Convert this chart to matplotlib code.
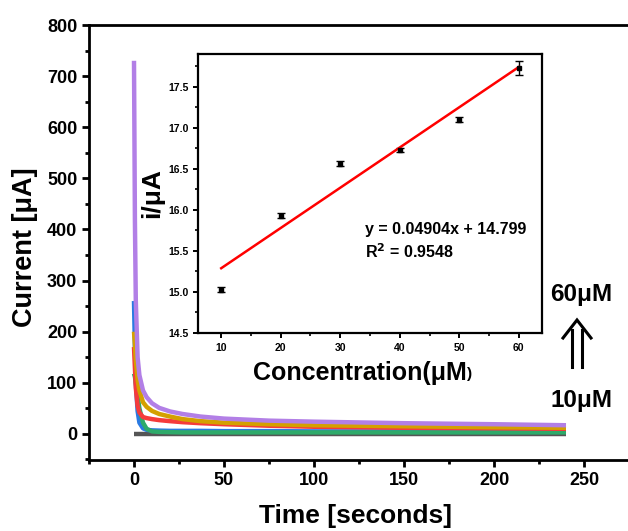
import matplotlib
matplotlib.use("Agg")
import matplotlib.pyplot as plt
from matplotlib.ticker import MultipleLocator
from matplotlib.lines import Line2D

plt.rcParams['font.family'] = ['Liberation Sans', 'DejaVu Sans']
plt.rcParams['font.weight'] = 'bold'

# Chronoamperometry traces (time in s, current in µA)
time_s = [0, 0.5, 1, 2, 3, 5, 7, 10, 14, 20, 27, 37, 50, 75, 100, 150, 200, 240]
i_blank = [0, 0, 0, 0, 0, 0, 0, 0, 0, 0, 0, 0, 0, 0, 0, 0, 0, 0]
i_10uM = [260, 170, 100, 45, 22, 11, 8, 7, 6.5, 6, 6, 6, 5.5, 5.5, 5, 5, 5, 5]
i_20uM = [118, 112, 100, 75, 50, 22, 10, 5, 4, 3.5, 3, 3, 3, 3, 3, 3, 3, 3]
i_30uM = [170, 130, 90, 55, 42, 33, 31, 29, 27, 25, 23, 21, 19, 16, 14, 12, 11, 10]
i_40uM = [200, 175, 145, 105, 85, 62, 53, 45, 39, 34, 29, 25, 22, 19, 17, 15, 13, 12]
i_60uM = [730, 420, 260, 150, 115, 85, 72, 60, 51, 44, 39, 34, 30, 26, 24, 21, 19, 17]

trace_series = [i_blank, i_10uM, i_20uM, i_30uM, i_40uM, i_60uM]
trace_colors = ['#555555', '#2a7ae2', '#2eaa6a', '#f53b3b', '#d4a000', '#b27fe6']

# Calibration data
conc = [10, 20, 30, 40, 50, 60]
peak_i = [15.03, 15.93, 16.56, 16.73, 17.10, 17.73]
peak_err = [0.03, 0.03, 0.03, 0.02, 0.03, 0.08]
slope, intercept = 0.04904, 14.799

fig = plt.figure(figsize=(6.28, 5.31), dpi=100)
ax = fig.add_axes([89/628, 1-460/531, 558/628, 435/531])

for y, c in zip(trace_series, trace_colors):
    ax.plot(time_s, y, color=c, lw=3.2, solid_capstyle='butt')

ax.set_xlim(-25, 285)
ax.set_ylim(-51, 800)
ax.xaxis.set_major_locator(MultipleLocator(50))
ax.xaxis.set_minor_locator(MultipleLocator(25))
ax.yaxis.set_major_locator(MultipleLocator(100))
ax.yaxis.set_minor_locator(MultipleLocator(50))
for s in ['left', 'top', 'bottom']:
    ax.spines[s].set_linewidth(2)
ax.spines['right'].set_visible(False)
ax.tick_params(which='major', direction='out', length=5, width=2, labelsize=13)
ax.tick_params(which='minor', direction='out', length=3, width=2)
for lab in ax.get_xticklabels() + ax.get_yticklabels():
    lab.set_fontweight('bold')
ax.set_xlabel('Time [seconds]', fontsize=19, fontweight='bold')
ax.xaxis.set_label_coords(0.478, -0.1)
ax.set_ylabel('Current [μA]', fontsize=19.5, fontweight='bold')
ax.yaxis.set_label_coords(-0.092, 0.49)

# Inset calibration plot
ins = fig.add_axes([198/628, 1-333/531, 344/628, 279/531])
ins.errorbar(conc, peak_i, yerr=peak_err, fmt='s', color='black', ms=3,
             capsize=3, elinewidth=1, capthick=1)
fit_x = [conc[0], conc[-1]]
fit_y = [slope * x + intercept for x in fit_x]
ins.plot(fit_x, fit_y, color='red', lw=1.8)
ins.set_xlim(6.1, 63.9)
ins.set_ylim(14.5, 17.9)
ins.xaxis.set_major_locator(MultipleLocator(10))
ins.xaxis.set_minor_locator(MultipleLocator(5))
ins.yaxis.set_major_locator(MultipleLocator(0.5))
ins.yaxis.set_minor_locator(MultipleLocator(0.25))
for s in ins.spines.values():
    s.set_linewidth(1.6)
ins.tick_params(which='major', direction='out', length=3.5, width=1.4, labelsize=7.5)
ins.tick_params(which='minor', direction='out', length=2, width=1.2)
ins.set_yticks([14.5, 15.0, 15.5, 16.0, 16.5, 17.0, 17.5])
ins.set_yticklabels(['14.5', '15.0', '15.5', '16.0', '16.5', '17.0', '17.5'])
for lab in ins.get_xticklabels() + ins.get_yticklabels():
    lab.set_fontweight('bold')
xl = ins.set_xlabel('Concentration(μM', fontsize=18, fontweight='bold')
ins.xaxis.set_label_coords(0.47, -0.1)
ins.annotate(')', xy=(1, 0.15), xycoords=xl, fontsize=11, fontweight='bold',
             ha='left', va='bottom')
ins.set_ylabel('i/μA', fontsize=19, fontweight='bold', labelpad=3)
ins.text(0.485, 0.37, 'y = 0.04904x + 14.799', transform=ins.transAxes,
         fontsize=11.5, fontweight='bold', ha='left', va='center')
ins.text(0.485, 0.29, 'R$^\\mathbf{2}$ = 0.9548', transform=ins.transAxes,
         fontsize=11.5, fontweight='bold', ha='left', va='center')

# Concentration direction marker
fig.text(581/628, 1-294/531, '60μM', fontsize=17.5, fontweight='bold',
         ha='center', va='center')
fig.text(581/628, 1-401/531, '10μM', fontsize=17.5, fontweight='bold',
         ha='center', va='center')
W, H = 628, 531
def fx(p):
    return p / W
def fy(p):
    return 1 - p / H
for xs in (572, 582):
    fig.add_artist(Line2D([fx(xs), fx(xs)], [fy(330), fy(367)], color='black', lw=2.2))
fig.add_artist(Line2D([fx(563), fx(577), fx(591)], [fy(338), fy(320), fy(338)],
                      color='black', lw=2.2, solid_joinstyle='miter'))

fig.savefig('out.png', dpi=100)
